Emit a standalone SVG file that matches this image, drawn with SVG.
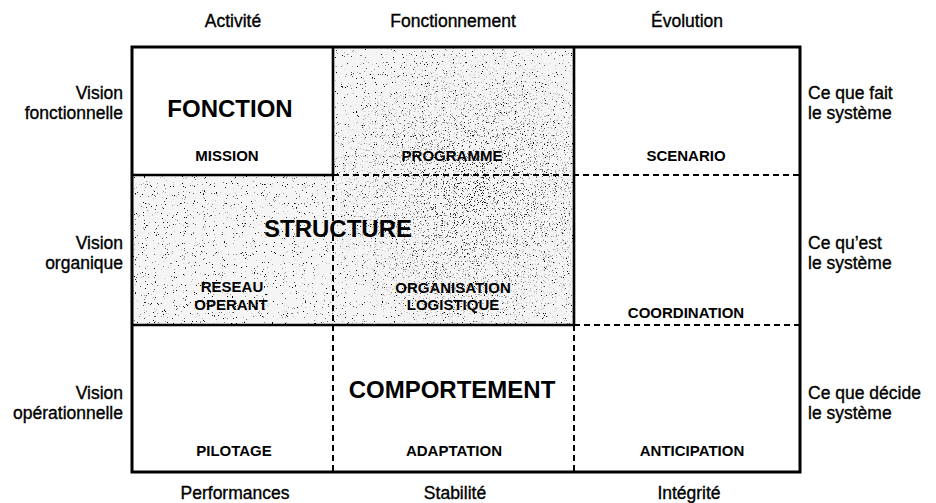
<svg xmlns="http://www.w3.org/2000/svg" width="936" height="503" viewBox="0 0 936 503">
<style>
text{font-family:"Liberation Sans",Arial,Helvetica,sans-serif;fill:#000}
.hd{font-size:17.5px;text-anchor:middle;stroke:#000;stroke-width:0.35}
.lt{font-size:17.5px;text-anchor:end;stroke:#000;stroke-width:0.35}
.rt{font-size:17.5px;text-anchor:start;stroke:#000;stroke-width:0.35}
.big{font-size:24px;font-weight:bold;text-anchor:middle}
.lb{font-size:15px;font-weight:bold;text-anchor:middle}
.solid{stroke:#000;stroke-width:2.6;fill:none}
.outer{stroke:#000;stroke-width:3;fill:none}
.dash{stroke:#000;stroke-width:2;fill:none;stroke-dasharray:6 4}
</style>
<defs>
<filter id="stip" x="132" y="47" width="442" height="278" filterUnits="userSpaceOnUse">
<feTurbulence type="fractalNoise" baseFrequency="0.9" numOctaves="2" seed="7" result="n"/>
<feColorMatrix in="n" type="matrix" values="0 0 0 0 0  0 0 0 0 0  0 0 0 0 0  12 0 0 0 -8.2"/>
</filter>
<filter id="stip2" x="132" y="47" width="442" height="278" filterUnits="userSpaceOnUse">
<feTurbulence type="fractalNoise" baseFrequency="0.85" numOctaves="2" seed="19" result="n"/>
<feColorMatrix in="n" type="matrix" values="0 0 0 0 0  0 0 0 0 0  0 0 0 0 0  12 0 0 0 -7.5"/>
</filter>
<radialGradient id="dense" cx="475" cy="195" r="160" gradientUnits="userSpaceOnUse">
<stop offset="0" stop-color="#fff" stop-opacity="1"/>
<stop offset="0.5" stop-color="#fff" stop-opacity="0.45"/>
<stop offset="1" stop-color="#fff" stop-opacity="0"/>
</radialGradient>
<mask id="dmask" maskUnits="userSpaceOnUse" x="0" y="0" width="936" height="503">
<rect x="0" y="0" width="936" height="503" fill="url(#dense)"/>
</mask>
<clipPath id="shadeClip"><polygon points="333,47 574,47 574,325 132,325 132,175 333,175"/></clipPath>
</defs>
<rect width="936" height="503" fill="#fff"/>

<g id="shading" clip-path="url(#shadeClip)">
<polygon points="333,47 574,47 574,325 132,325 132,175 333,175" fill="#f5f5f5"/>
<rect x="132" y="47" width="442" height="278" fill="#000" filter="url(#stip)"/>
<rect x="132" y="47" width="442" height="278" fill="#000" filter="url(#stip2)" mask="url(#dmask)"/>
</g>

<g id="headers">
<text class="hd" x="233" y="27">Activité</text>
<text class="hd" x="453" y="27">Fonctionnement</text>
<text class="hd" x="687" y="27">Évolution</text>
<text class="hd" x="235" y="499">Performances</text>
<text class="hd" x="455" y="499">Stabilité</text>
<text class="hd" x="689" y="499">Intégrité</text>
</g>

<g id="row-labels-left">
<text class="lt" x="123" y="99">Vision</text>
<text class="lt" x="123" y="119">fonctionnelle</text>
<text class="lt" x="123" y="249">Vision</text>
<text class="lt" x="123" y="269">organique</text>
<text class="lt" x="123" y="399">Vision</text>
<text class="lt" x="123" y="419">opérationnelle</text>
</g>

<g id="row-labels-right">
<text class="rt" x="808" y="99">Ce que fait</text>
<text class="rt" x="808" y="119">le système</text>
<text class="rt" x="808" y="249">Ce qu’est</text>
<text class="rt" x="808" y="269">le système</text>
<text class="rt" x="808" y="399">Ce que décide</text>
<text class="rt" x="808" y="419">le système</text>
</g>

<g id="connectors">
<rect class="outer" x="132" y="47" width="668" height="425"/>
<polyline class="solid" points="132,175 333,175 333,47"/>
<line class="solid" x1="574" y1="47" x2="574" y2="325"/>
<line class="solid" x1="132" y1="325" x2="574" y2="325"/>
<line class="dash" x1="333" y1="175" x2="800" y2="175"/>
<line class="dash" x1="574" y1="325" x2="800" y2="325"/>
<line class="dash" x1="333" y1="175" x2="333" y2="472"/>
<line class="dash" x1="574" y1="325" x2="574" y2="472"/>
</g>

<g id="fonction"><text class="big" x="230" y="117">FONCTION</text></g>
<g id="mission"><text class="lb" x="227" y="161">MISSION</text></g>
<g id="programme"><text class="lb" x="452" y="161">PROGRAMME</text></g>
<g id="scenario"><text class="lb" x="686" y="161">SCENARIO</text></g>
<g id="structure"><text class="big" x="338" y="237">STRUCTURE</text></g>
<g id="reseau-operant"><text class="lb" x="232" y="292">RESEAU</text><text class="lb" x="231" y="310">OPERANT</text></g>
<g id="organisation-logistique"><text class="lb" x="453" y="293">ORGANISATION</text><text class="lb" x="453" y="310">LOGISTIQUE</text></g>
<g id="coordination"><text class="lb" x="686" y="318">COORDINATION</text></g>
<g id="comportement"><text class="big" x="452" y="398">COMPORTEMENT</text></g>
<g id="pilotage"><text class="lb" x="234" y="456">PILOTAGE</text></g>
<g id="adaptation"><text class="lb" x="454" y="456">ADAPTATION</text></g>
<g id="anticipation"><text class="lb" x="692" y="456">ANTICIPATION</text></g>
</svg>
